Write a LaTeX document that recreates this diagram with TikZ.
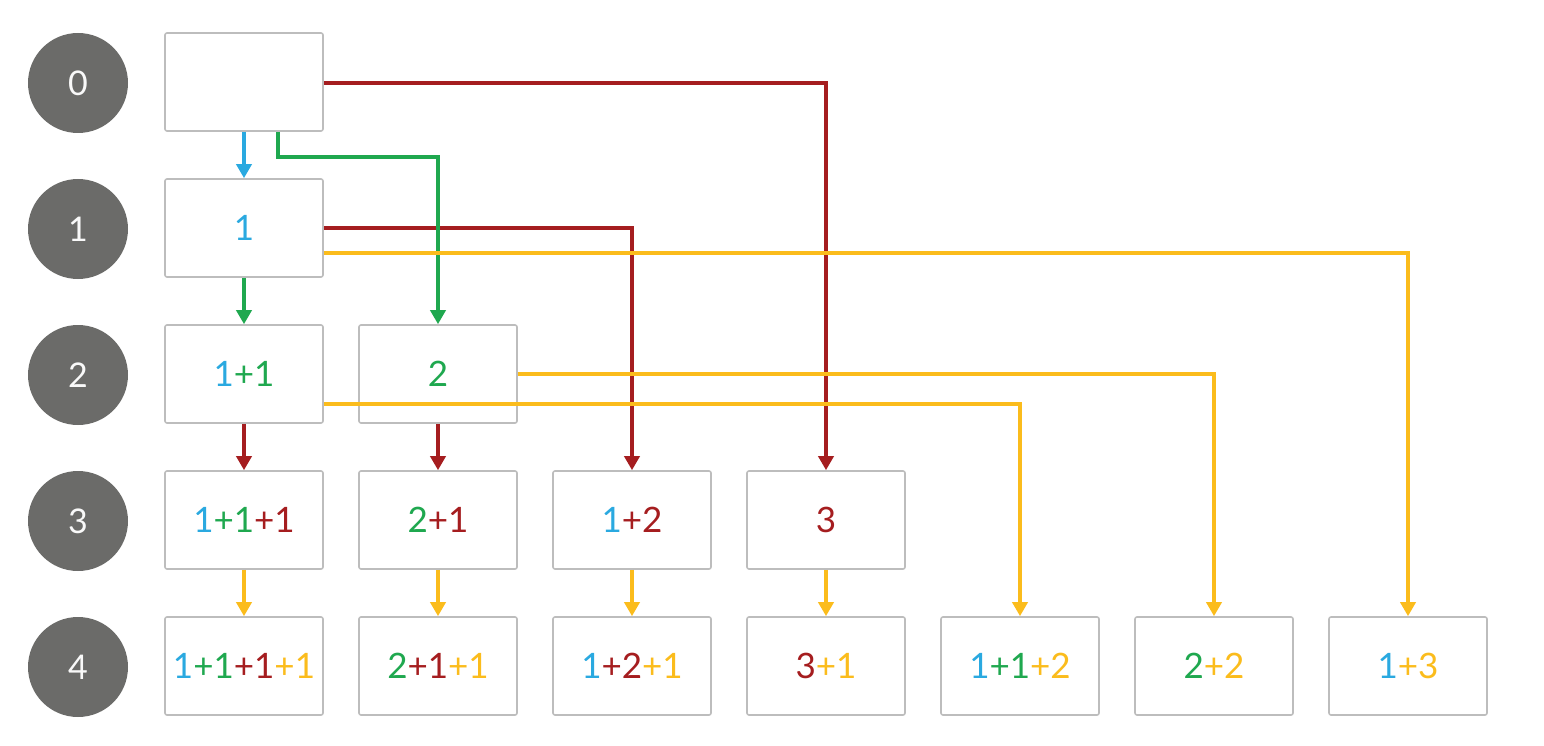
\documentclass[tikz,border=0pt]{standalone}
\usepackage{fontspec}
\setmainfont{Lato}
\usetikzlibrary{arrows.meta}
\definecolor{cblue}{HTML}{2AA9E0}
\definecolor{cgreen}{HTML}{1FA84F}
\definecolor{cred}{HTML}{A51D1F}
\definecolor{cyel}{HTML}{FBBC1C}
\definecolor{cgray}{HTML}{6B6B69}
\definecolor{cbord}{HTML}{BDBDBD}
\newcommand\colB[1]{\textcolor{cblue}{#1}}
\newcommand\colG[1]{\textcolor{cgreen}{#1}}
\newcommand\colR[1]{\textcolor{cred}{#1}}
\newcommand\colY[1]{\textcolor{cyel}{#1}}
\begin{document}
\begin{tikzpicture}[x=1pt,y=-1pt,
  lvl/.style={circle,fill=cgray,minimum size=100pt,inner sep=0pt,text=white!95!gray,font=\fontsize{34}{34}\selectfont},
  sumbox/.style={draw=cbord,line width=1.6pt,rounded corners=2pt,fill=white,minimum width=158pt,minimum height=98pt,inner sep=0pt,font=\fontsize{35}{35}\selectfont},
  conn/.style={line width=4.2pt,-{Triangle[width=15pt,length=14pt]}},
]
\useasboundingbox (0,0) rectangle (1544,746);
% level circles
\foreach \r in {0,...,4}{
  \node[lvl] (c\r) at (78,{83+146*\r}) {\r};
}
% boxes
\node[sumbox] (b00) at (244,82) {};
\node[sumbox] (b11) at (244,228) {\colB{1}};
\node[sumbox] (b21) at (244,374) {\colB{1}\colG{+1}};
\node[sumbox] (b22) at (438,374) {\colG{2}};
\node[sumbox] (b31) at (244,520) {\colB{1}\colG{+1}\colR{+1}};
\node[sumbox] (b32) at (438,520) {\colG{2}\colR{+1}};
\node[sumbox] (b33) at (632,520) {\colB{1}\colR{+2}};
\node[sumbox] (b34) at (826,520) {\colR{3}};
\node[sumbox] (b41) at (244,666) {\colB{1}\colG{+1}\colR{+1}\colY{+1}};
\node[sumbox] (b42) at (438,666) {\colG{2}\colR{+1}\colY{+1}};
\node[sumbox] (b43) at (632,666) {\colB{1}\colR{+2}\colY{+1}};
\node[sumbox] (b44) at (826,666) {\colR{3}\colY{+1}};
\node[sumbox] (b45) at (1020,666) {\colB{1}\colG{+1}\colY{+2}};
\node[sumbox] (b46) at (1214,666) {\colG{2}\colY{+2}};
\node[sumbox] (b47) at (1408,666) {\colB{1}\colY{+3}};
% blue
\draw[conn,cblue] (b00.south) -- (b11.north);
% red
\draw[conn,cred] ([yshift=-1pt]b00.east) -| (b34.north);
\draw[conn,cred] (b11.east) -| (b33.north);
\draw[conn,cred] (b21.south) -- (b31.north);
\draw[conn,cred] (b22.south) -- (b32.north);
% green
\draw[conn,cgreen] ([xshift=34pt]b00.south) -- ++(0,25) -| (b22.north);
\draw[conn,cgreen] (b11.south) -- (b21.north);
% yellow
\draw[conn,cyel] ([yshift=-25pt]b11.east) -| (b47.north);
\draw[conn,cyel] (b22.east) -| (b46.north);
\draw[conn,cyel] ([yshift=-30pt]b21.east) -| (b45.north);
\draw[conn,cyel] (b31.south) -- (b41.north);
\draw[conn,cyel] (b32.south) -- (b42.north);
\draw[conn,cyel] (b33.south) -- (b43.north);
\draw[conn,cyel] (b34.south) -- (b44.north);
\end{tikzpicture}
\end{document}
